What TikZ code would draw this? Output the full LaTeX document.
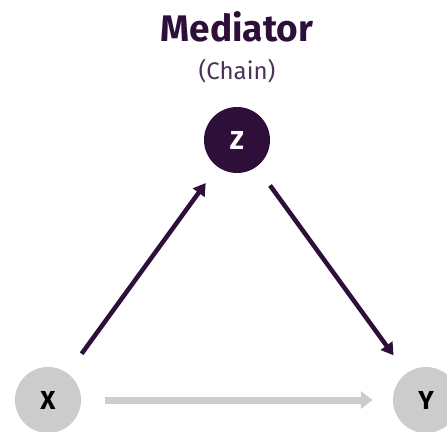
\documentclass[tikz,border=0pt]{standalone}
\usepackage{fontspec}
\setmainfont{Fira Sans}
\usetikzlibrary{arrows.meta}

\definecolor{plum}{HTML}{2D0F3A}
\definecolor{softplum}{HTML}{4A3356}
\definecolor{mist}{HTML}{CCCCCC}

\tikzset{
  var/.style={circle, minimum size=66pt, inner sep=0pt, font=\bfseries\fontsize{26}{26}\selectfont},
  causal/.style={draw=plum, line width=4.5pt, -{Triangle[length=12pt,width=14pt]}},
  direct/.style={draw=mist, line width=7pt, -{Triangle[length=12pt,width=17pt]}}
}

\begin{document}
\begin{tikzpicture}[x=1pt,y=-1pt]
\useasboundingbox (0,0) rectangle (447,431);
% title
\node[text=plum, font=\bfseries\fontsize{37}{37}\selectfont] (title) at (237,27) {Mediator};
\node[text=softplum, font=\fontsize{24}{24}\selectfont] (kind) at (237,71) {(Chain)};
% the three variables
\node[var, fill=plum, text=white] (z) at (237,140) {Z};
\node[var, fill=mist, text=black] (x) at (48,400) {X};
\node[var, fill=mist, text=black] (y) at (426,400) {Y};
% paths
\draw[direct, shorten <=24pt, shorten >=20pt] (x) -- (y);
\draw[causal, shorten <=24pt, shorten >=20pt] (x) -- (z);
\draw[causal, shorten <=23pt, shorten >=22pt] (z) -- (y);
\end{tikzpicture}
\end{document}
